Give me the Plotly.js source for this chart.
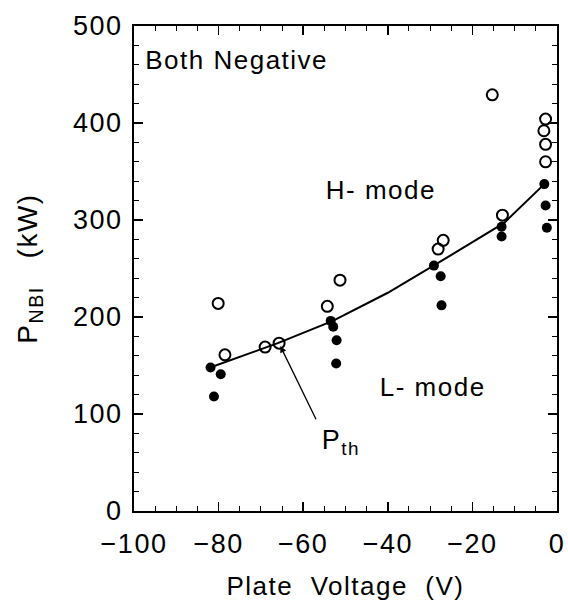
<!DOCTYPE html>
<html>
<head>
<meta charset="utf-8">
<script src="https://cdn.plot.ly/plotly-3.0.1.min.js"></script>
<style>html,body{margin:0;padding:0;background:#fff}#chart{width:568px;height:605px}
#chart text{letter-spacing:1.5px}</style>
</head>
<body>
<div id="chart"></div>
<script>
// H-mode (open circles)
const hX = [-80.1, -78.5, -69.0, -65.7, -54.3, -51.3, -28.1, -26.9, -15.3, -12.9, -2.7, -3.1, -2.7, -2.7];
const hY = [214, 161, 169, 173, 211, 238, 270, 279, 429, 305, 404, 392, 378, 360];
// L-mode (filled circles)
const lX = [-81.9, -79.5, -81.1, -53.5, -52.9, -52.1, -52.2, -29.1, -27.5, -27.3, -13.1, -13.1, -3.0, -2.7, -2.4];
const lY = [148, 141, 118, 196, 190, 176, 152, 253, 242, 212, 293, 283, 337, 315, 292];
// threshold line P_th
const thX = [-82, -66, -53, -40, -28, -12.5, -3];
const thY = [148, 173, 196, 225, 256, 297, 337];

const FONT = 'Liberation Sans, Arial, sans-serif';

const traces = [
  {x: thX, y: thY, mode: 'lines', line: {color: '#000', width: 2}, hoverinfo: 'skip'},
  {x: lX, y: lY, mode: 'markers', marker: {symbol: 'circle', size: 10, color: '#000'}},
  {x: hX, y: hY, mode: 'markers', marker: {symbol: 'circle-open', size: 11, color: '#000', line: {width: 2}}}
];

const axBase = {
  showgrid: false, zeroline: false, showline: true, linecolor: '#000', linewidth: 2,
  mirror: 'ticks', ticks: 'inside', ticklen: 9, tickwidth: 1.5, tickcolor: '#000',
  tickfont: {family: FONT, size: 27, color: '#000'}
};

const layout = {
  width: 568, height: 605,
  margin: {l: 134, r: 11, t: 26, b: 94},
  paper_bgcolor: '#fff', plot_bgcolor: '#fff',
  showlegend: false,
  font: {family: FONT, color: '#000'},
  xaxis: Object.assign({}, axBase, {
    range: [-100, 0], dtick: 20, tick0: -100, ticklabelstandoff: 8,
    minor: {dtick: 5, ticks: 'inside', ticklen: 5, tickwidth: 1, tickcolor: '#000'},
    title: {text: 'Plate  Voltage  (V)', font: {family: FONT, size: 26, color: '#000'}, standoff: 18}
  }),
  yaxis: Object.assign({}, axBase, {
    range: [0, 500], dtick: 100, ticklabelstandoff: 4,
    minor: {dtick: 20, ticks: 'inside', ticklen: 5, tickwidth: 1, tickcolor: '#000'},
    title: {text: 'P<sub>NBI</sub>   (kW)', font: {family: FONT, size: 28, color: '#000'}, standoff: 32}
  }),
  annotations: [
    {x: 0.045, y: 0.93, xref: 'paper', yref: 'paper', text: 'Both Negative', showarrow: false,
     xanchor: 'left', yanchor: 'middle', font: {family: FONT, size: 26, color: '#000'}},
    {x: -41.5, y: 331, text: 'H- mode', showarrow: false, font: {family: FONT, size: 26, color: '#000'}},
    {x: -29.5, y: 128, text: 'L- mode', showarrow: false, font: {family: FONT, size: 26, color: '#000'}},
    {x: -65.4, y: 170, ax: -56.8, ay: 93, axref: 'x', ayref: 'y', text: '', showarrow: true,
     arrowhead: 2, arrowsize: 1, arrowwidth: 1.3, arrowcolor: '#000'},
    {x: -51.0, y: 71, text: 'P<sub>th</sub>', showarrow: false, font: {family: FONT, size: 27, color: '#000'}}
  ]
};

Plotly.newPlot('chart', traces, layout, {displayModeBar: false, staticPlot: true});
</script>
</body>
</html>
